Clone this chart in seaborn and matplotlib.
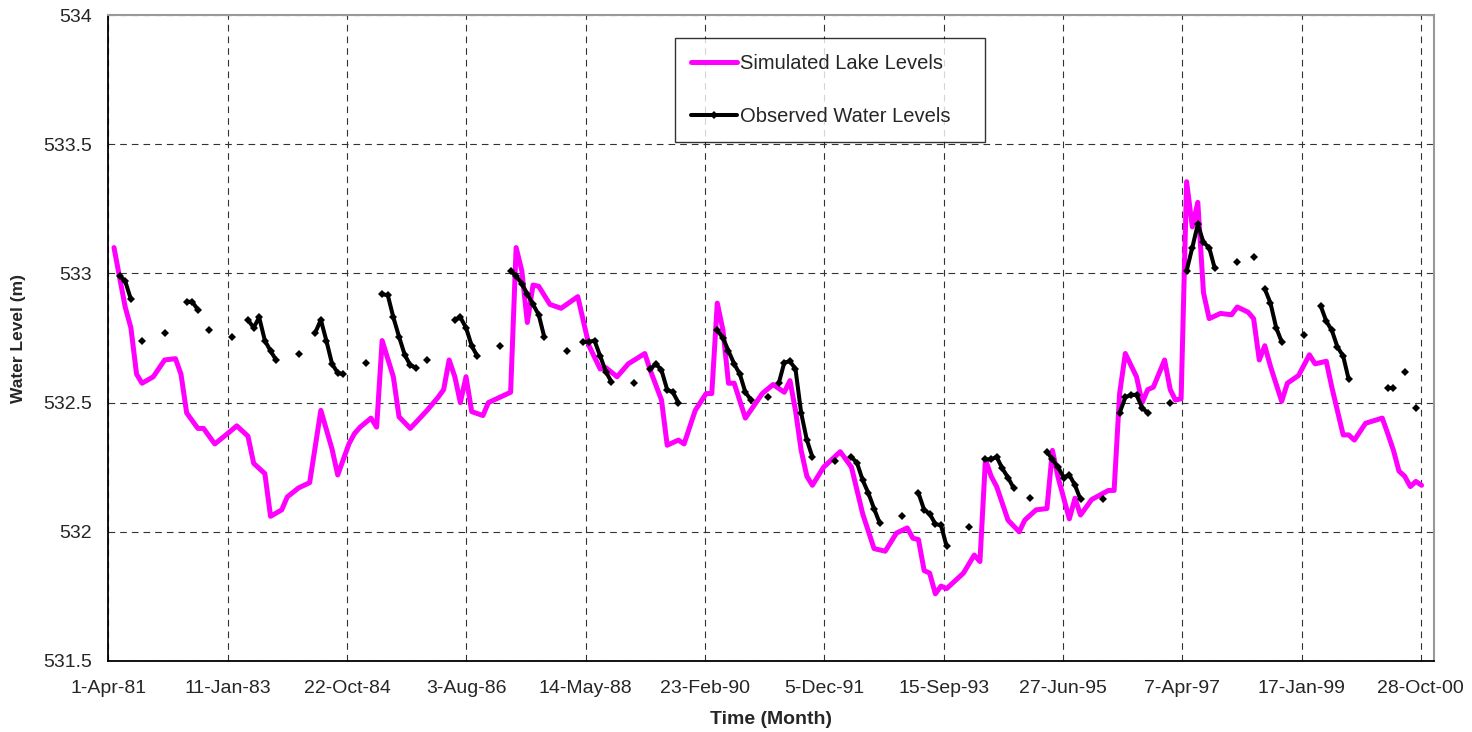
import numpy as np
import pandas as pd
import seaborn as sns
import matplotlib.pyplot as plt
import matplotlib.dates as mdates
from matplotlib.lines import Line2D
from matplotlib.ticker import FixedLocator, MultipleLocator, FuncFormatter

# months counted from April 1981 (0 = Apr-81)
sim_months = [1, 3, 4, 5, 6, 8, 10, 12, 13, 14, 16, 17, 19, 21, 23, 25, 26, 28, 29, 31,
              32, 34, 36, 38, 40, 41, 43, 44, 45, 47, 48, 49, 51, 52, 54, 57, 59, 60, 61, 62,
              63, 64, 65, 67, 68, 72, 73, 74, 75, 76, 77, 79, 81, 83, 84, 86, 88, 89, 91, 93,
              96, 97, 99, 100, 102, 103, 105, 107, 108, 109, 110, 111, 112, 114, 117, 119, 121, 122, 123, 124,
              125, 126, 128, 131, 133, 135, 137, 139, 141, 143, 144, 145, 146, 147, 148, 149, 150, 153, 155, 156,
              157, 158, 159, 161, 163, 164, 166, 168, 169, 170, 172, 173, 174, 176, 179, 180, 181, 182, 184, 185,
              186, 187, 189, 190, 191, 192, 193, 194, 195, 196, 197, 199, 201, 202, 204, 205, 206, 207, 208, 210,
              211, 213, 215, 216, 218, 219, 221, 222, 223, 225, 228, 229, 230, 231, 232, 233, 234, 235]
sim_levels = [533.10, 532.87, 532.79, 532.61, 532.575, 532.60, 532.665, 532.67, 532.61, 532.46,
              532.40, 532.40, 532.34, 532.375, 532.41, 532.37, 532.265, 532.225, 532.06, 532.085,
              532.135, 532.17, 532.19, 532.47, 532.32, 532.22, 532.34, 532.38, 532.405, 532.44,
              532.405, 532.74, 532.60, 532.445, 532.40, 532.47, 532.52, 532.55, 532.665, 532.60,
              532.50, 532.60, 532.465, 532.45, 532.50, 532.54, 533.10, 533.01, 532.81, 532.955,
              532.95, 532.88, 532.865, 532.895, 532.91, 532.72, 532.63, 532.635, 532.60, 532.65,
              532.69, 532.625, 532.51, 532.335, 532.355, 532.34, 532.47, 532.535, 532.535, 532.885,
              532.78, 532.575, 532.575, 532.44, 532.535, 532.57, 532.54, 532.585, 532.47, 532.315,
              532.215, 532.18, 532.25, 532.31, 532.25, 532.07, 531.935, 531.925, 531.995, 532.015,
              531.975, 531.97, 531.85, 531.84, 531.76, 531.79, 531.78, 531.84, 531.91, 531.885,
              532.28, 532.215, 532.175, 532.045, 532.00, 532.045, 532.085, 532.09, 532.315, 532.21,
              532.05, 532.13, 532.065, 532.125, 532.16, 532.16, 532.535, 532.69, 532.60, 532.50,
              532.55, 532.56, 532.665, 532.55, 532.51, 532.515, 533.355, 533.18, 533.275, 532.925,
              532.825, 532.845, 532.84, 532.87, 532.85, 532.825, 532.665, 532.72, 532.64, 532.505,
              532.575, 532.605, 532.685, 532.65, 532.66, 532.56, 532.375, 532.375, 532.355, 532.42,
              532.44, 532.38, 532.315, 532.235, 532.215, 532.175, 532.195, 532.18]

obs_months = [2, 3, 4, 6, 10, 14, 15, 16, 18, 22, 25, 26, 27, 28, 29, 30, 34,
              37, 38, 39, 40, 41, 42, 46, 49, 50, 51, 52, 53, 54, 55, 57,
              62, 63, 64, 65, 66, 70, 72, 73, 74, 75, 76, 77, 78, 82,
              85, 86, 87, 88, 89, 90, 94, 97, 98, 99, 100, 101, 102,
              109, 110, 111, 112, 113, 114, 115, 118, 120, 121, 122, 123, 124, 125, 126, 130,
              133, 134, 135, 136, 137, 138, 142, 145, 146, 147, 148, 149, 150, 154,
              157, 158, 159, 160, 161, 162, 165, 168, 169, 170, 171, 172, 173, 174, 178,
              181, 182, 183, 184, 185, 186, 190, 193, 194, 195, 196, 197, 198, 202, 205,
              207, 208, 209, 210, 214, 217, 218, 219, 220, 221, 222, 229, 230, 232, 234]
obs_levels = [532.99, 532.97, 532.90, 532.74, 532.77, 532.89, 532.89, 532.86, 532.78, 532.755,
              532.82, 532.79, 532.83, 532.74, 532.70, 532.665, 532.69,
              532.77, 532.82, 532.74, 532.65, 532.615, 532.61, 532.655,
              532.92, 532.915, 532.83, 532.755, 532.685, 532.645, 532.635, 532.665,
              532.82, 532.83, 532.79, 532.72, 532.68, 532.72,
              533.01, 532.99, 532.96, 532.92, 532.88, 532.84, 532.755, 532.70,
              532.735, 532.735, 532.74, 532.68, 532.62, 532.58, 532.575,
              532.63, 532.65, 532.625, 532.55, 532.54, 532.50,
              532.78, 532.75, 532.70, 532.65, 532.61, 532.54, 532.51, 532.52,
              532.575, 532.655, 532.66, 532.63, 532.46, 532.355, 532.29, 532.275,
              532.29, 532.265, 532.20, 532.15, 532.09, 532.035, 532.06,
              532.15, 532.085, 532.07, 532.03, 532.025, 531.945, 532.02,
              532.28, 532.28, 532.29, 532.245, 532.21, 532.17, 532.13,
              532.31, 532.28, 532.25, 532.21, 532.22, 532.18, 532.125, 532.125,
              532.46, 532.52, 532.53, 532.53, 532.48, 532.46, 532.50,
              533.01, 533.10, 533.19, 533.12, 533.10, 533.02, 533.045, 533.065,
              532.94, 532.885, 532.79, 532.735, 532.76,
              532.875, 532.815, 532.78, 532.715, 532.68, 532.59,
              532.555, 532.555, 532.62, 532.48]

month_dates = pd.date_range('1981-04-01', periods=240, freq='MS')

sim = pd.DataFrame({'date': month_dates[sim_months], 'level': sim_levels})
obs = pd.DataFrame({'date': month_dates[obs_months], 'level': obs_levels})
# break the observed line wherever a month is missing
obs['segment'] = (np.diff(obs_months, prepend=-10) != 1).cumsum()

sns.set_style('white')
plt.rcParams['font.family'] = ['Liberation Sans', 'DejaVu Sans']

fig = plt.figure(figsize=(14.72, 7.32), dpi=100)
ax = fig.add_axes([0.0737, 0.097, 0.9005, 0.8825])

sns.lineplot(data=sim, x='date', y='level', color='#FF00FF', lw=3.6, ax=ax)
sns.lineplot(data=obs, x='date', y='level', units='segment', estimator=None,
             color='black', lw=2.9, marker='D', markersize=4.5, markeredgewidth=0,
             legend=False, ax=ax)

# Excel style date axis: major every 650 days, minor every 130 days
major = pd.date_range('1981-04-01', periods=12, freq='650D')
minor = pd.date_range('1981-04-01', '2001-01-08', freq='130D')
ax.xaxis.set_major_locator(FixedLocator(mdates.date2num(major)))
ax.xaxis.set_minor_locator(FixedLocator(mdates.date2num(minor)))
ax.xaxis.set_major_formatter(FuncFormatter(
    lambda v, p: f"{mdates.num2date(v).day}-{mdates.num2date(v):%b-%y}"))
ax.set_xlim(pd.Timestamp('1981-04-01'), pd.Timestamp('2001-01-08'))

ax.set_ylim(531.5, 534)
ax.yaxis.set_major_locator(MultipleLocator(0.5))
ax.yaxis.set_minor_locator(MultipleLocator(0.25))
ax.yaxis.set_major_formatter(FuncFormatter(lambda v, p: f"{v:g}"))

ax.tick_params(which='both', direction='in', length=5, width=1, color='black')
ax.tick_params(axis='y', labelsize=14, pad=12)
ax.tick_params(axis='x', labelsize=14, pad=14)

ax.grid(True, which='major', color='#333333', linestyle=(0, (6, 4.5)), linewidth=0.8)
ax.set_axisbelow(True)

for s in ['left', 'bottom']:
    ax.spines[s].set_color('black')
    ax.spines[s].set_linewidth(1.3)
for s in ['top', 'right']:
    ax.spines[s].set_color('#999999')
    ax.spines[s].set_linewidth(1.5)

ax.set_xlabel('Time (Month)', fontsize=14, fontweight='bold', labelpad=10)
ax.set_ylabel('Water Level (m)', fontsize=12.5, fontweight='bold')
ax.yaxis.set_label_coords(-0.062, 0.5)

handles = [Line2D([], [], color='#FF00FF', lw=3.6),
           Line2D([], [], color='black', lw=2.9, marker='D', markersize=4.5, markeredgewidth=0)]
leg = ax.legend(handles, ['Simulated Lake Levels', 'Observed Water Levels'],
                loc='upper left', bbox_to_anchor=(0.4274, 0.8034, 0.2339, 0.161),
                mode='expand', borderaxespad=0,
                fontsize=14.5, frameon=True, fancybox=False, edgecolor='black',
                handlelength=2.3, handletextpad=0.15, labelspacing=1.69, borderpad=0.8)
leg.get_frame().set_linewidth(1.0)

fig.savefig('out.png', dpi=100)
